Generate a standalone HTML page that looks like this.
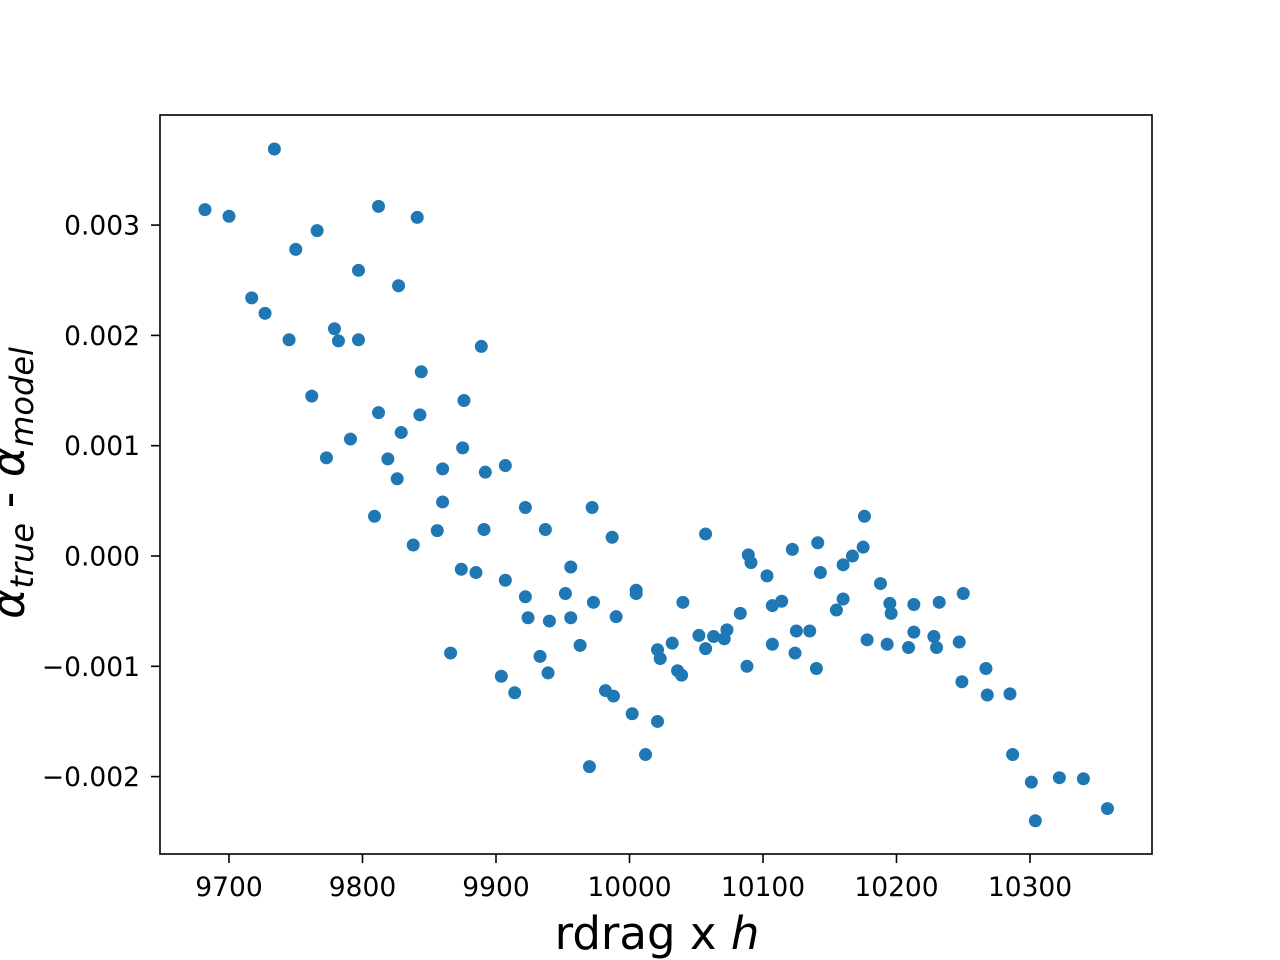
<!DOCTYPE html>
<html><head><meta charset="utf-8"><style>
body{margin:0;background:#fff;}
svg{display:block;font-family:"DejaVu Sans","Liberation Sans",sans-serif;}
</style></head><body>
<svg id="chart" width="1280" height="960">
<rect x="0" y="0" width="1280" height="960" fill="#fff"/>
<g id="points"></g>
<g id="xticks"></g>
<g id="yticks"></g>
<rect x="160" y="115" width="992" height="739" fill="none" stroke="#000" stroke-width="1.6"/>
<text x="657" y="949" text-anchor="middle" font-size="45">rdrag x <tspan font-style="italic">h</tspan></text>
<text transform="translate(24,483) rotate(-90)" text-anchor="middle" font-size="46"><tspan font-style="italic">α</tspan><tspan font-style="italic" font-size="32" dy="9">true</tspan><tspan dy="-9"> - </tspan><tspan font-style="italic">α</tspan><tspan font-style="italic" font-size="32" dy="9">model</tspan></text>
</svg>
<script>
const xs=[9682,9700,9734,9717,9727,9750,9766,9745,9779,9782,9797,9797,9812,9841,9827,9762,9773,9791,9812,9829,9819,9826,9809,9838,9844,9843,9889,9876,9875,9860,9860,9892,9907,9856,9891,9874,9885,9866,9922,9937,9972,9987,9907,9922,9924,9940,9952,9956,9956,9973,9990,9963,9933,9939,9904,9914,9982,9988,10002,10021,9970,10012,10005,10005,10021,10023,10032,10036,10039,10040,10057,10052,10057,10063,10071,10073,10083,10088,10089,10091,10103,10107,10114,10107,10122,10125,10124,10135,10140,10141,10143,10155,10160,10160,10167,10175,10176,10178,10188,10195,10196,10193,10209,10213,10213,10228,10230,10232,10250,10247,10249,10267,10268,10285,10287,10301,10304,10322,10340,10358];
const ys=[0.00314,0.00308,0.00369,0.00234,0.00220,0.00278,0.00295,0.00196,0.00206,0.00195,0.00196,0.00259,0.00317,0.00307,0.00245,0.00145,0.00089,0.00106,0.00130,0.00112,0.00088,0.00070,0.00036,0.00010,0.00167,0.00128,0.00190,0.00141,0.00098,0.00079,0.00049,0.00076,0.00082,0.00023,0.00024,-0.00012,-0.00015,-0.00088,0.00044,0.00024,0.00044,0.00017,-0.00022,-0.00037,-0.00056,-0.00059,-0.00034,-0.00010,-0.00056,-0.00042,-0.00055,-0.00081,-0.00091,-0.00106,-0.00109,-0.00124,-0.00122,-0.00127,-0.00143,-0.00150,-0.00191,-0.00180,-0.00031,-0.00034,-0.00085,-0.00093,-0.00079,-0.00104,-0.00108,-0.00042,0.00020,-0.00072,-0.00084,-0.00073,-0.00075,-0.00067,-0.00052,-0.00100,0.00001,-0.00006,-0.00018,-0.00045,-0.00041,-0.00080,0.00006,-0.00068,-0.00088,-0.00068,-0.00102,0.00012,-0.00015,-0.00049,-0.00039,-0.00008,0.00000,0.00008,0.00036,-0.00076,-0.00025,-0.00043,-0.00052,-0.00080,-0.00083,-0.00044,-0.00069,-0.00073,-0.00083,-0.00042,-0.00034,-0.00078,-0.00114,-0.00102,-0.00126,-0.00125,-0.00180,-0.00205,-0.00240,-0.00201,-0.00202,-0.00229];
const xTicks=[9700,9800,9900,10000,10100,10200,10300];
const yTicks=[-0.002,-0.001,0,0.001,0.002,0.003];
const yTickLabels=["\u22120.002","\u22120.001","0.000","0.001","0.002","0.003"];
const NS="http://www.w3.org/2000/svg";
function X(v){return 229+(v-9700)*1.335;}
function Y(v){return 556-v*110300;}
const gp=document.getElementById('points');
for(let i=0;i<xs.length;i++){
  const c=document.createElementNS(NS,'circle');
  c.setAttribute('cx',X(xs[i]));c.setAttribute('cy',Y(ys[i]));c.setAttribute('r',6.5);c.setAttribute('fill','#1f77b4');
  
  
  gp.appendChild(c);
}
const gx=document.getElementById('xticks');
xTicks.forEach(t=>{
  const l=document.createElementNS(NS,'line');
  l.setAttribute('x1',X(t));l.setAttribute('x2',X(t));l.setAttribute('y1',854);l.setAttribute('y2',863);l.setAttribute('stroke','#000');l.setAttribute('stroke-width','1.6');
  
  
  gx.appendChild(l);
  const tx=document.createElementNS(NS,'text');
  tx.setAttribute('x',X(t));tx.setAttribute('y',896);tx.setAttribute('text-anchor','middle');tx.setAttribute('font-size','26.5');
  tx.textContent=t;
  
  
  gx.appendChild(tx);
});
const gy=document.getElementById('yticks');
yTicks.forEach((t,i)=>{
  const l=document.createElementNS(NS,'line');
  l.setAttribute('x1',151);l.setAttribute('x2',160);l.setAttribute('y1',Y(t));l.setAttribute('y2',Y(t));l.setAttribute('stroke','#000');l.setAttribute('stroke-width','1.6');
  
  
  gy.appendChild(l);
  const tx=document.createElementNS(NS,'text');
  tx.setAttribute('x',140);tx.setAttribute('y',Y(t)+9.5);tx.setAttribute('text-anchor','end');tx.setAttribute('font-size','26.5');
  tx.textContent=yTickLabels[i];
  
  
  gy.appendChild(tx);
});
</script>
</body></html>
